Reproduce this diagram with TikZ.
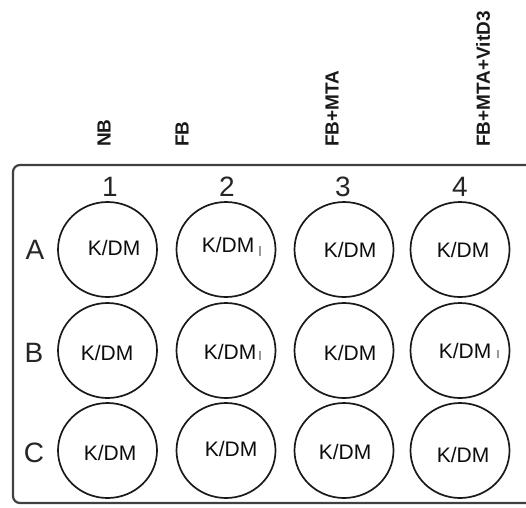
\documentclass[tikz,border=0pt]{standalone}
\usepackage{fontspec}
\setmainfont{Liberation Sans}
\usetikzlibrary{shapes.geometric}
\begin{document}
\begin{tikzpicture}[x=1pt,y=-1pt,
  plate/.style={draw=black!75, line width=2.2pt, rounded corners=7pt},
  well/.style={draw=black!90, line width=1.7pt, ellipse, minimum width=99pt, minimum height=95pt, inner sep=0pt},
  kdm/.style={inner sep=0pt, font=\fontsize{21}{24}\selectfont, text=black!95},
  colnum/.style={inner sep=0pt, font=\fontsize{28}{32}\selectfont, text=black!85},
  rowlab/.style={inner sep=0pt, font=\fontsize{28}{32}\selectfont, text=black!85},
  cond/.style={inner sep=0pt, rotate=90, anchor=west, font=\fontsize{19}{22}\selectfont\bfseries, text=black!90},
  tick/.style={draw=black!40, line width=1.2pt}]
\useasboundingbox (0,0) rectangle (526,507);
\clip (0,0) rectangle (526,507);
\fill[white] (0,0) rectangle (526,507);
% plate outline
\draw[plate] (560,165) -- (13,165) -- (13,503) -- (560,503);
% condition labels
\node[cond] (cNB) at (104,147) {NB};
\node[cond] (cFB) at (182,147) {FB};
\node[cond] (cFBM) at (332,147) {FB+MTA};
\node[cond] (cFBMV) at (483,147) {FB+MTA+VitD3};
% column numbers
\node[colnum] (n1) at (110,187) {1};
\node[colnum] (n2) at (227,187) {2};
\node[colnum] (n3) at (343,187) {3};
\node[colnum] (n4) at (460,187) {4};
% row letters
\node[rowlab] (rA) at (35,250) {A};
\node[rowlab] (rB) at (34,353) {B};
\node[rowlab] (rC) at (34,453) {C};
% wells
\node[well] (wA1) at (107.5,249.5) {};
\node[well] (wA2) at (226,249.5) {};
\node[well] (wA3) at (344,249.5) {};
\node[well] (wA4) at (460,249.5) {};
\node[well] (wB1) at (107.5,350.5) {};
\node[well] (wB2) at (226,350.5) {};
\node[well] (wB3) at (344,350.5) {};
\node[well] (wB4) at (460,350.5) {};
\node[well] (wC1) at (107.5,450.5) {};
\node[well] (wC2) at (226,450.5) {};
\node[well] (wC3) at (344,450.5) {};
\node[well] (wC4) at (460,450.5) {};
% well texts
\node[kdm] (tA1) at (114,248) {K/DM};
\node[kdm] (tA2) at (228,245) {K/DM};
\node[kdm] (tA3) at (350,250) {K/DM};
\node[kdm] (tA4) at (463,250) {K/DM};
\node[kdm] (tB1) at (107,353) {K/DM};
\node[kdm] (tB2) at (230,352) {K/DM};
\node[kdm] (tB3) at (350,353) {K/DM};
\node[kdm] (tB4) at (465,351) {K/DM};
\node[kdm] (tC1) at (110,453) {K/DM};
\node[kdm] (tC2) at (231,449) {K/DM};
\node[kdm] (tC3) at (345,452) {K/DM};
\node[kdm] (tC4) at (463,455) {K/DM};
% small marks
\coordinate (m1a) at (260,246); \coordinate (m1b) at (260,256);
\coordinate (m2a) at (260,351); \coordinate (m2b) at (260,360);
\coordinate (m3a) at (498,350); \coordinate (m3b) at (498,358);
\draw[tick] (m1a) -- (m1b);
\draw[tick] (m2a) -- (m2b);
\draw[tick] (m3a) -- (m3b);
\end{tikzpicture}
\end{document}
